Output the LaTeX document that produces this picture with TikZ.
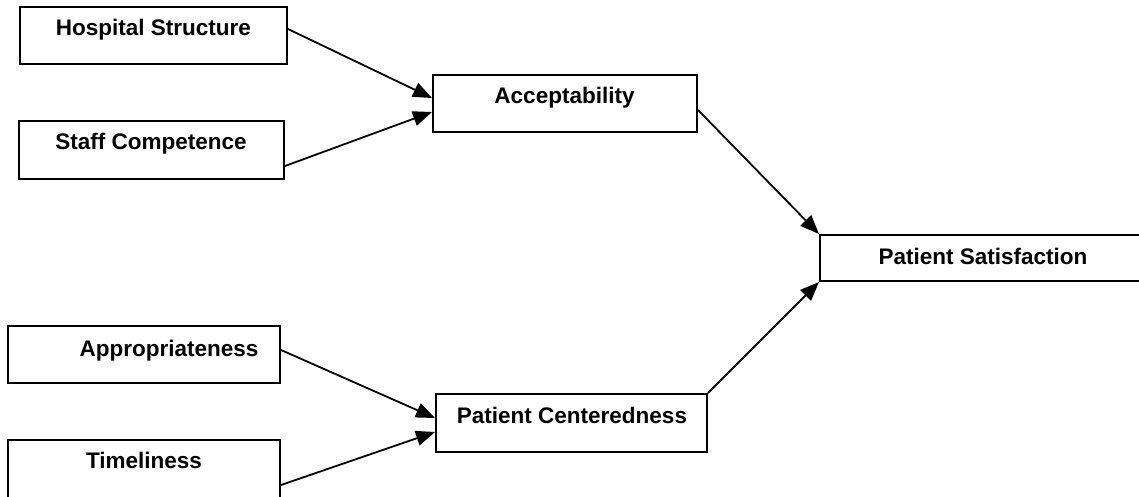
\documentclass[tikz,border=0pt]{standalone}
\usepackage{fontspec}
\setmainfont{Liberation Sans}
\usetikzlibrary{arrows.meta,calc}
\tikzset{
  box/.style={draw, line width=2pt, rectangle, inner sep=0pt},
  lbl/.style={anchor=base, inner sep=0pt, font=\fontsize{22.5}{27}\selectfont\bfseries},
  conn/.style={line width=1.8pt, -{Triangle[length=19pt,width=15pt]}, shorten >=0pt}
}
\begin{document}
\begin{tikzpicture}[x=1pt,y=1pt]
\useasboundingbox (0,0) rectangle (1139,496);
\clip (0,0) rectangle (1139,496);
% boxes (image coords -> y = 496 - y)
\node[box, minimum width=267pt, minimum height=57pt] (hs) at (153.5, 460.5) {};
\node[box, minimum width=265pt, minimum height=58pt] (sc) at (151.5, 346) {};
\node[box, minimum width=264pt, minimum height=57pt] (acc) at (565, 392.5) {};
\node[box, minimum width=340pt, minimum height=46pt] (ps) at (990, 238) {};
\node[box, minimum width=272pt, minimum height=57pt] (app) at (144, 141.5) {};
\node[box, minimum width=272pt, minimum height=80pt] (tim) at (144, 16) {};
\node[box, minimum width=271pt, minimum height=58pt] (pc) at (571.5, 73) {};
% labels
\node[lbl] (hsT) at (153.5, 460) {Hospital Structure};
\node[lbl] (scT) at (151, 346) {Staff Competence};
\node[lbl] (accT) at (564.5, 392) {Acceptability};
\node[lbl] (psT) at (983, 232) {Patient Satisfaction};
\node[lbl] (appT) at (169, 140) {Appropriateness};
\node[lbl] (timT) at (144, 28) {Timeliness};
\node[lbl] (pcT) at (572, 73) {Patient Centeredness};
% connectors
\draw[conn] ([yshift=6.5pt]hs.east) -- ([yshift=5.5pt]acc.west);
\draw[conn] ([yshift=-16pt]sc.east) -- ([yshift=-8.5pt]acc.west);
\draw[conn] ([yshift=-6.5pt]acc.east) -- (ps.north west);
\draw[conn] ([yshift=4.5pt]app.east) -- ([yshift=5pt]pc.west);
\draw[conn] ([yshift=-5pt]tim.east) -- ([yshift=-9pt]pc.west);
\draw[conn] (pc.north east) -- (ps.south west);
\end{tikzpicture}
\end{document}
